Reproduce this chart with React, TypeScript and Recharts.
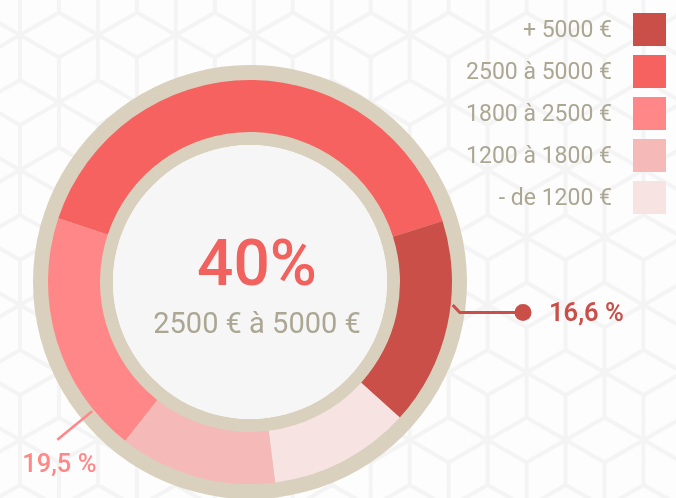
import { PieChart, Pie, Cell } from "recharts";

const categories = ["+ 5000 €", "2500 à 5000 €", "1800 à 2500 €", "1200 à 1800 €", "- de 1200 €"];
const shares = [16.6, 40, 19.5, 12.6, 11.3];
const colors = ["#c94f48", "#f6625f", "#ff8787", "#f5b9b8", "#f7e3e2"];
// clockwise order of the slices around the ring
const ringOrder = [1, 0, 4, 3, 2];
const labelled = ["+ 5000 €", "1800 à 2500 €"];

const BEIGE = "#d9d0bd";
const GREY_TEXT = "#aba793";
const CX = 250;
const CY = 282;
const RAD = Math.PI / 180;

const ringData = ringOrder.map((i) => ({
  name: categories[i],
  value: shares[i],
  color: colors[i],
}));
const fullCircle = [{ name: "bg", value: 1 }];

const fmt = (v: number) => v.toFixed(1).replace(".", ",") + " %";

const polar = (cx: number, cy: number, r: number, a: number) => ({
  x: cx + r * Math.cos(-a * RAD),
  y: cy + r * Math.sin(-a * RAD),
});

function renderLabel(props: any) {
  const { cx, cy, midAngle, index } = props;
  const d = ringData[index];
  if (!labelled.includes(d.name)) return null;
  if (Math.cos(midAngle * RAD) > 0) {
    const start = polar(cx, cy, 204, midAngle + 5.8);
    const elbow = polar(cx, cy, 212, midAngle + 4);
    const dotX = cx + 273;
    return (
      <g key={"l" + index}>
        <polyline
          points={`${start.x},${start.y} ${elbow.x},${elbow.y} ${dotX},${elbow.y}`}
          fill="none"
          stroke={d.color}
          strokeWidth={3}
        />
        <circle cx={dotX} cy={elbow.y} r={8.5} fill={d.color} />
        <text
          x={dotX + 26}
          y={elbow.y - 1}
          dominantBaseline="central"
          fill={d.color}
          fontSize={25.5}
          fontWeight={600}
          fontFamily="Roboto, sans-serif"
        >
          {fmt(d.value)}
        </text>
      </g>
    );
  }
  const start = polar(cx, cy, 204, midAngle + 22.6);
  const end = polar(cx, cy, 249, midAngle + 22.6);
  return (
    <g key={"l" + index}>
      <line x1={start.x} y1={start.y} x2={end.x} y2={end.y} stroke={d.color} strokeWidth={2.5} />
      <text
        x={end.x + 2}
        y={end.y + 32}
        textAnchor="middle"
        fill={d.color}
        fontSize={25.5}
        fontWeight={500}
        fontFamily="Roboto, sans-serif"
      >
        {fmt(d.value)}
      </text>
    </g>
  );
}

function Background() {
  const s = 45;
  const w = s * Math.sqrt(3);
  const hex = (x: number, y: number) =>
    `M${x},${y - s} L${x + w / 2},${y - s / 2} L${x + w / 2},${y + s / 2} L${x},${y + s} L${x - w / 2},${y + s / 2} L${x - w / 2},${y - s / 2} Z ` +
    `M${x},${y} L${x - w / 2},${y - s / 2} M${x},${y} L${x + w / 2},${y - s / 2} M${x},${y} L${x},${y + s}`;
  const centers = [
    [0, 0],
    [w, 0],
    [w / 2, 1.5 * s],
    [0, 3 * s],
    [w, 3 * s],
  ];
  return (
    <svg width={676} height={498} style={{ position: "absolute", left: 0, top: 0 }}>
      <defs>
        <pattern id="cubes" width={w} height={3 * s} patternUnits="userSpaceOnUse" x={20} y={-10}>
          <rect width={w} height={3 * s} fill="#fdfdfd" />
          <path d={centers.map(([x, y]) => hex(x, y)).join(" ")} fill="none" stroke="#f4f4f4" strokeWidth={4} />
        </pattern>
      </defs>
      <rect width={676} height={498} fill="url(#cubes)" />
    </svg>
  );
}

export default function App() {
  const top = ringData.reduce((a, b) => (b.value > a.value ? b : a));
  return (
    <div
      style={{
        position: "fixed",
        left: 0,
        top: 0,
        width: 676,
        height: 498,
        overflow: "hidden",
        fontFamily: "Roboto, sans-serif",
      }}
    >
      <Background />
      <div style={{ position: "absolute", left: 0, top: 0 }}>
        <PieChart width={676} height={498} margin={{ top: 0, right: 0, bottom: 0, left: 0 }}>
          <Pie
            data={fullCircle}
            dataKey="value"
            cx={CX}
            cy={CY}
            innerRadius={137}
            outerRadius={217}
            stroke="none"
            fill={BEIGE}
            isAnimationActive={false}
          />
          <Pie
            data={fullCircle}
            dataKey="value"
            cx={CX}
            cy={CY}
            innerRadius={0}
            outerRadius={137}
            stroke="none"
            fill="#f6f6f6"
            isAnimationActive={false}
          />
          <Pie
            data={ringData}
            dataKey="value"
            nameKey="name"
            cx={CX}
            cy={CY}
            innerRadius={150}
            outerRadius={202}
            startAngle={161.6}
            endAngle={-198.4}
            stroke="none"
            label={renderLabel}
            labelLine={false}
            isAnimationActive={false}
          >
            {ringData.map((d) => (
              <Cell key={d.name} fill={d.color} />
            ))}
          </Pie>
        </PieChart>
      </div>
      <div
        style={{
          position: "absolute",
          left: CX - 140 + 7,
          width: 280,
          top: 232,
          textAlign: "center",
          lineHeight: 1,
        }}
      >
        <div style={{ color: "#f1625f", fontSize: 64, fontWeight: 500, height: 64 }}>{Math.round(top.value) + "%"}</div>
        <div style={{ color: GREY_TEXT, fontSize: 29, marginTop: 13 }}>{top.name.replace(" à", " € à")}</div>
      </div>
      <div style={{ position: "absolute", right: 10, top: 13 }}>
        {categories.map((c, i) => (
          <div key={c} style={{ display: "flex", alignItems: "center", justifyContent: "flex-end", height: 33, marginBottom: 9 }}>
            <span style={{ color: GREY_TEXT, fontSize: 23, marginRight: 21 }}>{c}</span>
            <span style={{ width: 33, height: 33, background: colors[i], display: "inline-block" }} />
          </div>
        ))}
      </div>
    </div>
  );
}
